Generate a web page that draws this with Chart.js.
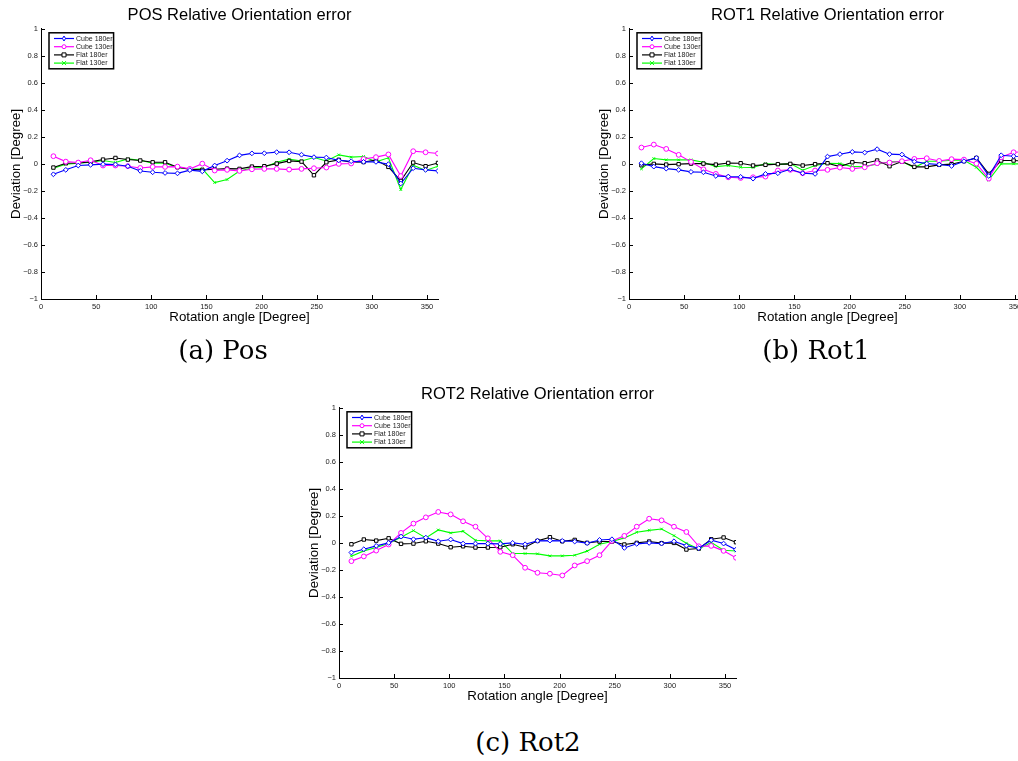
<!DOCTYPE html>
<html>
<head>
<meta charset="utf-8">
<script src="https://cdn.jsdelivr.net/npm/chart.js@4.4.1/dist/chart.umd.min.js"></script>
<style>
html, body { margin: 0; padding: 0; background: #fff; }
body { width: 1018px; height: 761px; position: relative; overflow: hidden; }
.panel { position: absolute; width: 479px; height: 335px; }
.cap { position: absolute; font-family: "DejaVu Serif", "Liberation Serif", serif; font-size: 26px; color: #000;
       transform: translate(-50%, -50%); white-space: nowrap; }
</style>
</head>
<body>
<div class="panel" style="left:0px; top:1px"><canvas id="chartPos"></canvas></div>
<div class="panel" style="left:588px; top:1px"><canvas id="chartRot1"></canvas></div>
<div class="panel" style="left:298px; top:380px"><canvas id="chartRot2"></canvas></div>
<div class="cap" style="left:223px; top:350px">(a) Pos</div>
<div class="cap" style="left:816px; top:350px">(b) Rot1</div>
<div class="cap" style="left:528px; top:742px">(c) Rot2</div>
<script>
// rotation angles (deg) of the 32 measurements
var angles = [11.25, 22.5, 33.75, 45, 56.25, 67.5, 78.75, 90, 101.25, 112.5, 123.75, 135, 146.25, 157.5, 168.75, 180,
              191.25, 202.5, 213.75, 225, 236.25, 247.5, 258.75, 270, 281.25, 292.5, 303.75, 315, 326.25, 337.5, 348.75, 360];
var xTicks = [0, 50, 100, 150, 200, 250, 300, 350];
var yTicks = [-1, -0.8, -0.6, -0.4, -0.2, 0, 0.2, 0.4, 0.6, 0.8, 1];
var seriesNames = ["Cube 180er", "Cube 130er", "Flat 180er", "Flat 130er"];

// POS
var posCube180 = [-0.077, -0.044, -0.012, -0.007, -0.002, -0.004, -0.017, -0.052, -0.062, -0.067, -0.070, -0.046, -0.055, -0.012, 0.024, 0.063,
                  0.078, 0.079, 0.087, 0.086, 0.068, 0.050, 0.047, 0.026, 0.020, 0.015, 0.015, -0.002, -0.145, -0.032, -0.044, -0.052];
var posCube130 = [0.057, 0.017, 0.010, 0.027, -0.012, -0.012, -0.017, -0.030, -0.022, -0.022, -0.020, -0.037, 0.002, -0.049, -0.044, -0.052,
                  -0.040, -0.037, -0.037, -0.042, -0.037, -0.032, -0.027, 0.000, 0.003, 0.036, 0.050, 0.070, -0.090, 0.094, 0.086, 0.077];
var posFlat180 = [-0.027, 0.005, 0.007, 0.015, 0.032, 0.044, 0.032, 0.025, 0.012, 0.012, -0.025, -0.040, -0.044, -0.040, -0.035, -0.037,
                  -0.020, -0.017, 0.002, 0.022, 0.017, -0.084, 0.012, 0.030, 0.012, 0.014, 0.028, -0.022, -0.126, 0.010, -0.017, 0.007];
var posFlat130 = [-0.032, -0.002, 0.005, 0.012, 0.025, 0.010, 0.037, 0.027, 0.005, 0.005, -0.027, -0.040, -0.037, -0.138, -0.116, -0.052,
                  -0.030, -0.025, 0.012, 0.035, 0.022, 0.047, 0.022, 0.067, 0.050, 0.055, 0.015, 0.045, -0.190, -0.010, -0.049, -0.017];

// ROT1
var rot1Cube180 = [0.005, -0.020, -0.035, -0.044, -0.059, -0.062, -0.089, -0.094, -0.096, -0.109, -0.074, -0.069, -0.040, -0.069, -0.074, 0.054,
                   0.072, 0.089, 0.084, 0.109, 0.072, 0.069, 0.017, 0.002, -0.005, -0.015, 0.020, 0.044, -0.089, 0.064, 0.057, 0.055];
var rot1Cube130 = [0.121, 0.143, 0.111, 0.067, 0.015, -0.040, -0.074, -0.099, -0.104, -0.099, -0.094, -0.049, -0.044, -0.069, -0.049, -0.044,
                   -0.027, -0.037, -0.025, 0.005, 0.010, 0.020, 0.037, 0.042, 0.022, 0.035, 0.032, 0.002, -0.109, 0.049, 0.086, 0.090];
var rot1Flat180 = [-0.010, 0.000, -0.005, -0.002, 0.002, 0.002, -0.005, 0.007, 0.005, -0.012, -0.007, -0.002, 0.000, -0.012, -0.002, 0.005,
                   -0.020, 0.012, 0.005, 0.025, -0.017, 0.017, -0.022, -0.022, -0.007, -0.002, 0.020, 0.044, -0.074, 0.025, 0.025, 0.020];
var rot1Flat130 = [-0.037, 0.040, 0.030, 0.030, 0.030, 0.012, -0.020, -0.012, -0.025, -0.027, 0.002, -0.005, 0.002, -0.047, -0.012, 0.005,
                   0.002, -0.020, -0.017, -0.002, 0.015, 0.017, -0.027, 0.020, 0.020, 0.027, 0.027, -0.025, -0.119, 0.000, 0.000, 0.000];

// ROT2
var rot2Cube180 = [-0.071, -0.047, -0.022, 0.000, 0.047, 0.027, 0.039, 0.012, 0.025, -0.005, -0.005, -0.005, -0.007, 0.000, -0.010, 0.015,
                   0.017, 0.015, 0.010, -0.002, 0.022, 0.027, -0.037, -0.007, 0.000, -0.005, 0.012, -0.020, -0.039, 0.020, -0.005, -0.050];
var rot2Cube130 = [-0.135, -0.100, -0.057, -0.012, 0.074, 0.143, 0.189, 0.229, 0.211, 0.160, 0.120, 0.034, -0.066, -0.091, -0.184, -0.221,
                   -0.228, -0.241, -0.167, -0.135, -0.091, 0.015, 0.052, 0.120, 0.179, 0.167, 0.120, 0.081, -0.025, -0.022, -0.059, -0.110];
var rot2Flat180 = [-0.010, 0.025, 0.017, 0.034, -0.007, -0.005, 0.012, -0.005, -0.032, -0.025, -0.034, -0.034, -0.032, -0.010, -0.032, 0.015,
                   0.042, 0.012, 0.022, 0.000, 0.010, 0.010, -0.012, 0.000, 0.010, -0.002, 0.000, -0.049, -0.042, 0.027, 0.040, 0.005];
var rot2Flat130 = [-0.098, -0.059, -0.034, -0.005, 0.042, 0.091, 0.037, 0.096, 0.074, 0.086, 0.020, 0.015, 0.015, -0.079, -0.079, -0.081,
                   -0.096, -0.096, -0.091, -0.061, -0.010, 0.010, 0.037, 0.079, 0.093, 0.103, 0.054, -0.002, -0.046, 0.004, -0.054, -0.060];

var colors = ["#0000ff", "#ff00ff", "#000000", "#00ff00"];
var markers = ["rectRot", "circle", "rect", "crossRot"];
var FONT = "'Liberation Sans', Arial, Helvetica, sans-serif";

function fmtTick(v) {
  if (Math.abs(v) < 1e-9) return "0";
  var s = String(Math.round(v * 10) / 10);
  return s.replace("-", "\u2212");
}

// matlab style ticks pointing into the axes
var inwardTicks = {
  id: "inwardTicks",
  afterDatasetsDraw: function(chart) {
    var ctx = chart.ctx, a = chart.chartArea;
    var xs = chart.scales.x, ys = chart.scales.y;
    ctx.save();
    ctx.strokeStyle = "#000";
    ctx.lineWidth = 1;
    ctx.beginPath();
    xTicks.forEach(function(v) {
      var px = Math.round(xs.getPixelForValue(v)) + 0.5;
      ctx.moveTo(px, a.bottom);
      ctx.lineTo(px, a.bottom - 4);
    });
    yTicks.forEach(function(v) {
      var py = Math.round(ys.getPixelForValue(v)) + 0.5;
      ctx.moveTo(a.left, py);
      ctx.lineTo(a.left + 4, py);
    });
    ctx.stroke();
    ctx.restore();
  }
};

function drawMarker(ctx, style, x, y, r) {
  ctx.beginPath();
  if (style === "circle") {
    ctx.arc(x, y, r, 0, Math.PI * 2);
    ctx.fill(); ctx.stroke();
  } else if (style === "rect") {
    ctx.rect(x - r, y - r, 2 * r, 2 * r);
    ctx.fill(); ctx.stroke();
  } else if (style === "rectRot") {
    ctx.moveTo(x, y - r - 0.5); ctx.lineTo(x + r - 0.5, y); ctx.lineTo(x, y + r + 0.5); ctx.lineTo(x - r + 0.5, y); ctx.closePath();
    ctx.fill(); ctx.stroke();
  } else {
    ctx.moveTo(x - r, y - r); ctx.lineTo(x + r, y + r);
    ctx.moveTo(x + r, y - r); ctx.lineTo(x - r, y + r);
    ctx.stroke();
  }
}

// boxed legend in the upper left corner of the axes
var boxLegend = {
  id: "boxLegend",
  afterDraw: function(chart) {
    var ctx = chart.ctx, a = chart.chartArea;
    var sets = chart.data.datasets;
    ctx.save();
    ctx.font = "7px " + FONT;
    var tw = 0;
    sets.forEach(function(d) { tw = Math.max(tw, ctx.measureText(d.label).width); });
    var bx = a.left + 8, by = a.top + 4;
    var bw = 5 + 20 + 2 + tw + 1, bh = 36;
    ctx.fillStyle = "#fff";
    ctx.fillRect(bx, by, bw, bh);
    ctx.strokeStyle = "#000";
    ctx.lineWidth = 1.5;
    ctx.strokeRect(bx, by, bw, bh);
    sets.forEach(function(d, i) {
      var y = by + 5.7 + 8.2 * i;
      ctx.strokeStyle = d.borderColor;
      ctx.lineWidth = 1.2;
      ctx.beginPath();
      ctx.moveTo(bx + 5, y);
      ctx.lineTo(bx + 25, y);
      ctx.stroke();
      ctx.lineWidth = 1;
      ctx.fillStyle = "#fff";
      drawMarker(ctx, d.pointStyle, bx + 15, y, 2);
      ctx.fillStyle = "#222";
      ctx.textBaseline = "middle";
      ctx.textAlign = "left";
      ctx.fillText(d.label, bx + 27, y + 0.3);
    });
    ctx.restore();
  }
};

function makeChart(id, title, series) {
  var ctx = document.getElementById(id).getContext("2d");
  var datasets = series.map(function(vals, i) {
    return {
      label: seriesNames[i],
      data: angles.map(function(a, j) { return { x: a, y: vals[j] }; }),
      borderColor: colors[i],
      backgroundColor: "#ffffff",
      pointBorderColor: colors[i],
      pointBackgroundColor: i === 3 ? colors[i] : "#ffffff",
      pointStyle: markers[i],
      pointRadius: i === 3 ? 1.8 : 2.4,
      pointBorderWidth: 1,
      borderWidth: 1.1,
      tension: 0,
      fill: false
    };
  });
  return new Chart(ctx, {
    type: "line",
    data: { datasets: datasets },
    plugins: [inwardTicks, boxLegend],
    options: {
      responsive: true,
      maintainAspectRatio: false,
      animation: false,
      layout: { padding: 0 },
      plugins: {
        legend: { display: false },
        tooltip: { enabled: false },
        title: {
          display: true,
          text: title,
          color: "#000",
          font: { family: FONT, size: 16.5, weight: "normal" },
          padding: { top: 5, bottom: 3 }
        }
      },
      scales: {
        x: {
          type: "linear",
          min: 0,
          max: 360,
          afterBuildTicks: function(s) { s.ticks = xTicks.map(function(v) { return { value: v }; }); },
          afterFit: function(s) { s.height = 37; s.paddingRight = 41; },
          grid: { display: false, drawTicks: false },
          border: { display: true, color: "#000", width: 1 },
          ticks: {
            autoSkip: false, maxRotation: 0, padding: 3, color: "#222",
            font: { family: FONT, size: 7.5 },
            callback: function(v) { return String(v); }
          },
          title: {
            display: true, text: "Rotation angle [Degree]", color: "#000",
            font: { family: FONT, size: 13.3 }, padding: { top: 0, bottom: 11 }
          }
        },
        y: {
          type: "linear",
          min: -1,
          max: 1,
          afterBuildTicks: function(s) { s.ticks = yTicks.map(function(v) { return { value: v }; }); },
          afterFit: function(s) { s.width = 41; },
          grid: { display: false, drawTicks: false },
          border: { display: true, color: "#000", width: 1 },
          ticks: {
            autoSkip: false, padding: 3, color: "#222",
            font: { family: FONT, size: 7.5 },
            callback: function(v) { return fmtTick(v); }
          },
          title: {
            display: true, text: "Deviation [Degree]", color: "#000",
            font: { family: FONT, size: 13.3 }, padding: { top: 8, bottom: 0 }
          }
        }
      }
    }
  });
}

makeChart("chartPos", "POS Relative Orientation error", [posCube180, posCube130, posFlat180, posFlat130]);
makeChart("chartRot1", "ROT1 Relative Orientation error", [rot1Cube180, rot1Cube130, rot1Flat180, rot1Flat130]);
makeChart("chartRot2", "ROT2 Relative Orientation error", [rot2Cube180, rot2Cube130, rot2Flat180, rot2Flat130]);
</script>
</body>
</html>
